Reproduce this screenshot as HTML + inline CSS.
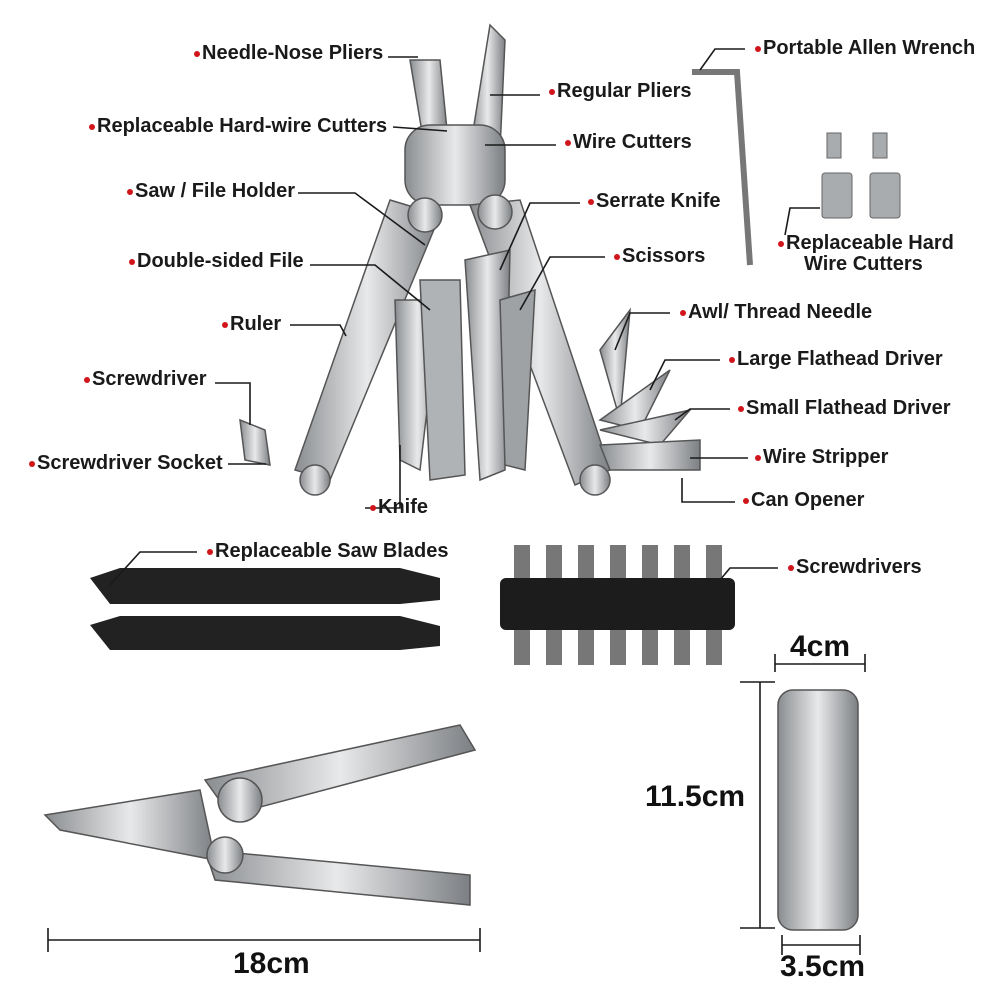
<!DOCTYPE html>
<html><head><meta charset="utf-8"><style>
html,body{margin:0;padding:0;background:#fff}
body{width:1000px;height:1000px;position:relative;overflow:hidden;font-family:"Liberation Sans",sans-serif}
.l{position:absolute;font-size:20px;font-weight:bold;color:#1a1a1a;white-space:nowrap;line-height:21px}
.l:before{content:"";position:absolute;left:-8px;top:8px;width:6px;height:6px;border-radius:50%;background:#d0151b}
.d{position:absolute;font-size:30px;font-weight:bold;color:#111}
svg{position:absolute;left:0;top:0}
</style></head><body>
<svg width="1000" height="1000" viewBox="0 0 1000 1000">
<defs><linearGradient id="m" x1="0" x2="1"><stop offset="0" stop-color="#8a8d90"/><stop offset=".5" stop-color="#e8e9ea"/><stop offset="1" stop-color="#7c7f83"/></linearGradient></defs>
<g fill="url(#m)" stroke="#555" stroke-width="1.5">
<path d="M410 60 L440 60 L448 140 L425 150 Z"/>
<path d="M490 25 L505 40 L500 150 L470 150 Z"/>
<rect x="405" y="125" width="100" height="80" rx="25"/>
<path d="M390 200 L440 215 L330 480 L295 470 Z"/>
<path d="M470 205 L520 200 L610 470 L575 485 Z"/>
<path d="M395 300 L440 300 L420 470 L400 460 Z"/>
<path d="M420 280 L460 280 L465 475 L430 480 Z" fill="#b0b3b6"/>
<path d="M465 260 L510 250 L505 470 L480 480 Z"/>
<path d="M500 300 L535 290 L525 470 L505 465 Z" fill="#9ea2a5"/>
<path d="M600 350 L630 310 L620 420 Z"/>
<path d="M600 420 L670 370 L640 430 Z"/>
<path d="M600 430 L690 410 L660 445 Z"/>
<path d="M600 445 L700 440 L700 470 L610 470 Z"/>
<path d="M240 420 L265 430 L270 465 L245 460 Z"/>
<circle cx="315" cy="480" r="15"/><circle cx="595" cy="480" r="15"/>
<circle cx="425" cy="215" r="17"/><circle cx="495" cy="212" r="17"/>
</g>
<path d="M692 72 L737 72 L750 265" fill="none" stroke="#777" stroke-width="6"/>
<g fill="#a9acaf" stroke="#666"><rect x="822" y="173" width="30" height="45" rx="3"/><rect x="870" y="173" width="30" height="45" rx="3"/>
<rect x="827" y="133" width="14" height="25"/><rect x="873" y="133" width="14" height="25"/></g>
<g fill="#222"><path d="M90 578 L120 568 L400 568 L440 578 L440 600 L400 604 L110 604 Z"/>
<path d="M90 625 L120 616 L400 616 L440 626 L440 646 L400 650 L110 650 Z"/></g>
<g fill="#777"><rect x="514" y="545" width="16" height="120"/><rect x="546" y="545" width="16" height="120"/><rect x="578" y="545" width="16" height="120"/><rect x="610" y="545" width="16" height="120"/><rect x="642" y="545" width="16" height="120"/><rect x="674" y="545" width="16" height="120"/><rect x="706" y="545" width="16" height="120"/></g>
<rect x="500" y="578" width="235" height="52" rx="6" fill="#1c1c1c"/>
<g fill="url(#m)" stroke="#555" stroke-width="1.5">
<path d="M205 780 L460 725 L475 750 L230 815 Z"/>
<path d="M205 850 L470 875 L470 905 L215 880 Z"/>
<path d="M45 815 L200 790 L215 860 L60 830 Z"/>
<circle cx="240" cy="800" r="22"/><circle cx="225" cy="855" r="18"/>
<rect x="778" y="690" width="80" height="240" rx="15"/>
</g>
<g fill="none" stroke="#1a1a1a" stroke-width="1.6">
<path d="M388 57 H418"/><path d="M490 95 H540"/><path d="M393 127 L447 131"/><path d="M485 145 H556"/>
<path d="M745 49 H715 L700 70"/><path d="M298 193 H355 L425 245"/><path d="M580 203 H530 L500 270"/>
<path d="M605 257 H550 L520 310"/><path d="M820 208 H790 L785 235"/><path d="M310 265 H375 L430 310"/>
<path d="M670 313 H630 L615 350"/><path d="M290 325 H340 L346 336"/><path d="M720 360 H665 L650 390"/>
<path d="M215 383 H250 V425"/><path d="M730 409 H690 L675 420"/><path d="M228 464 H266"/>
<path d="M748 458 H690"/><path d="M735 502 H682 V478"/><path d="M365 508 H400 V445"/>
<path d="M197 552 H140 L110 585"/><path d="M778 568 H730 L720 580"/>
<path d="M775 664 H865"/><path d="M775 654 V672 M865 654 V672"/>
<path d="M760 682 V928"/><path d="M740 682 H775 M740 928 H775"/>
<path d="M48 940 H480"/><path d="M48 928 V952 M480 928 V952"/>
<path d="M782 945 H860"/><path d="M782 935 V955 M860 935 V955"/>
</g>
</svg>
<div class="l" style="left:202px;top:43px">Needle-Nose Pliers</div>
<div class="l" style="left:557px;top:81px">Regular Pliers</div>
<div class="l" style="left:97px;top:116px">Replaceable Hard-wire Cutters</div>
<div class="l" style="left:573px;top:132px">Wire Cutters</div>
<div class="l" style="left:763px;top:38px">Portable Allen Wrench</div>
<div class="l" style="left:135px;top:181px">Saw / File Holder</div>
<div class="l" style="left:596px;top:191px">Serrate Knife</div>
<div class="l" style="left:622px;top:246px">Scissors</div>
<div class="l" style="left:786px;top:233px">Replaceable Hard<br><span style="padding-left:18px">Wire Cutters</span></div>
<div class="l" style="left:137px;top:251px">Double-sided File</div>
<div class="l" style="left:688px;top:302px">Awl/ Thread Needle</div>
<div class="l" style="left:230px;top:314px">Ruler</div>
<div class="l" style="left:737px;top:349px">Large Flathead Driver</div>
<div class="l" style="left:92px;top:369px">Screwdriver</div>
<div class="l" style="left:746px;top:398px">Small Flathead Driver</div>
<div class="l" style="left:37px;top:453px">Screwdriver Socket</div>
<div class="l" style="left:763px;top:447px">Wire Stripper</div>
<div class="l" style="left:751px;top:490px">Can Opener</div>
<div class="l" style="left:378px;top:497px">Knife</div>
<div class="l" style="left:215px;top:541px">Replaceable Saw Blades</div>
<div class="l" style="left:796px;top:557px">Screwdrivers</div>
<div class="d" style="left:790px;top:630px">4cm</div>
<div class="d" style="left:645px;top:780px">11.5cm</div>
<div class="d" style="left:233px;top:947px">18cm</div>
<div class="d" style="left:780px;top:950px">3.5cm</div>
</body></html>
